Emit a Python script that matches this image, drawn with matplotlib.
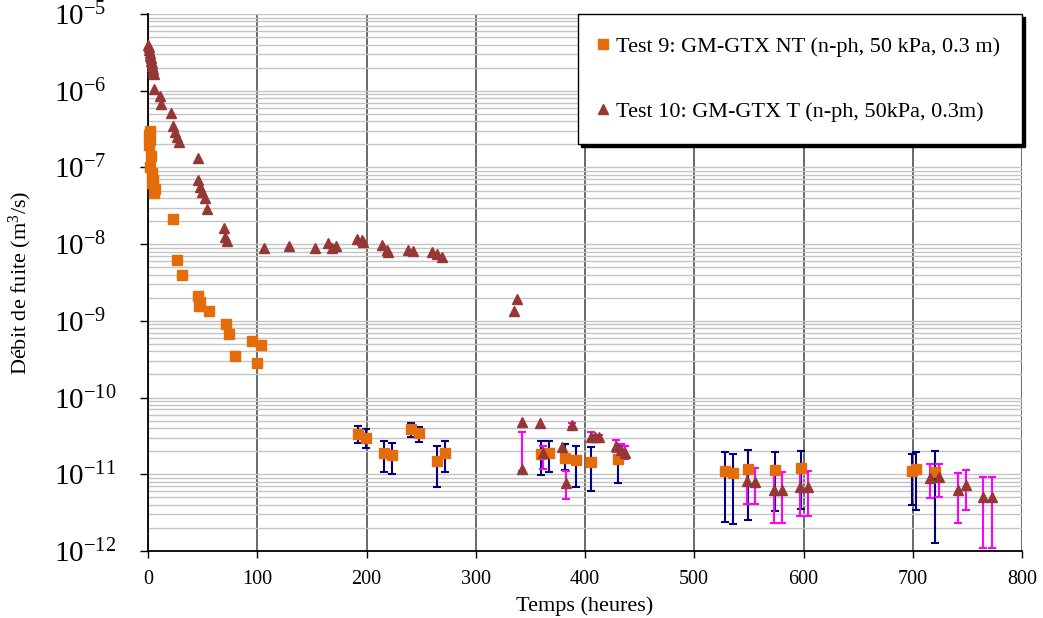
import numpy as np
import matplotlib
matplotlib.use('Agg')
import matplotlib.pyplot as plt
from matplotlib.ticker import LogLocator, NullFormatter, FixedLocator
from matplotlib.lines import Line2D

plt.rcParams['font.family'] = ['Liberation Serif', 'DejaVu Serif']
plt.rcParams['mathtext.fontset'] = 'custom'
plt.rcParams['mathtext.rm'] = 'Liberation Serif'
plt.rcParams['mathtext.it'] = 'Liberation Serif:italic'
plt.rcParams['mathtext.bf'] = 'Liberation Serif:bold'

# ---------------- data ----------------
# Test 9 (GM-GTX NT) – points without error bars
t9_hours = [1.8, 0.9, 1.8, 0.9, 2.5, 1.6, 3.7, 4.6, 3.4, 6.1, 5.8,
            22.6, 26.3, 30.8, 45.5, 47.6, 47.0, 55.8, 71.4, 74.1, 95.2, 103.2, 79.6, 99.5]
t9_flow = [2.99e-7, 2.64e-7, 2.27e-7, 1.96e-7, 1.42e-7, 1.02e-7, 8.4e-8, 6.9e-8, 6.2e-8, 5.3e-8, 4.7e-8,
           2.12e-8, 6.2e-9, 3.96e-9, 2.11e-9, 1.77e-9, 1.57e-9, 1.35e-9, 9.1e-10, 6.8e-10, 5.5e-10, 4.9e-10,
           3.5e-10, 2.84e-10]

# Test 9 – points with error bars
t9e_hours = [192.5, 199.5, 216.0, 223.3, 240.7, 247.8, 264.3, 271.6, 359.4, 367.3, 381.7,
             391.8, 405.5, 429.9, 528.1, 535.2, 548.9, 573.9, 597.4, 699.0, 703.0, 720.4]
t9e_flow = [3.34e-11, 2.96e-11, 1.91e-11, 1.78e-11, 3.88e-11, 3.47e-11, 1.50e-11, 1.91e-11, 1.83e-11,
            1.91e-11, 1.64e-11, 1.55e-11, 1.44e-11, 1.58e-11, 1.11e-11, 1.05e-11, 1.17e-11, 1.15e-11,
            1.22e-11, 1.11e-11, 1.17e-11, 1.08e-11]
t9e_low = [2.53e-11, 2.20e-11, 1.07e-11, 1.02e-11, 3.08e-11, 2.61e-11, 6.9e-12, 1.07e-11, 9.8e-12,
           1.06e-11, 1.14e-11, 6.9e-12, 6.0e-12, 7.8e-12, 2.38e-12, 2.23e-12, 2.55e-12, 3.34e-12,
           3.52e-12, 4.0e-12, 3.41e-12, 1.26e-12]
t9e_high = [4.25e-11, 3.84e-11, 2.74e-11, 2.58e-11, 4.61e-11, 4.16e-11, 2.33e-11, 2.74e-11, 2.71e-11,
            2.71e-11, 2.50e-11, 2.33e-11, 2.29e-11, 2.4e-11, 1.96e-11, 1.85e-11, 2.08e-11, 1.93e-11,
            2.02e-11, 1.83e-11, 1.96e-11, 2.02e-11]

# Test 10 (GM-GTX T) – points without error bars
t10_hours = [0, 0.5, 1.0, 1.5, 2.0, 2.5, 3.0, 3.5, 4.0, 4.5, 5.0, 5.5, 5.5, 11.0, 11.6, 21.1,
             22.6, 24.7, 26.3, 28.6, 45.5, 46.0, 47.6, 49.2, 51.9, 53.7, 69.6, 70.8, 72.6,
             106.2, 129.3, 152.9, 165.0, 168.1, 172.1, 191.0, 195.6, 197.1, 213.9, 218.5, 220.0,
             238.3, 242.8, 259.7, 264.3, 268.8, 335.3, 337.5, 342.1, 358.8, 378.7]
t10_flow = [3.94e-6, 3.71e-6, 3.40e-6, 3.10e-6, 2.83e-6, 2.67e-6, 2.44e-6, 2.30e-6, 2.10e-6, 1.92e-6,
            1.75e-6, 1.65e-6, 1.04e-6, 8.5e-7, 6.7e-7, 5.1e-7, 3.47e-7, 2.92e-7, 2.51e-7, 2.16e-7,
            1.34e-7, 6.85e-8, 5.6e-8, 4.82e-8, 3.95e-8, 2.84e-8, 1.61e-8, 1.25e-8, 1.10e-8,
            8.8e-9, 9.5e-9, 8.8e-9, 1.02e-8, 8.8e-9, 9.5e-9, 1.16e-8, 1.13e-8, 1.07e-8, 9.7e-9,
            8.4e-9, 8.0e-9, 8.4e-9, 8.1e-9, 8.0e-9, 7.4e-9, 6.9e-9, 1.34e-9, 1.92e-9, 4.83e-11,
            4.61e-11, 2.29e-11]

# Test 10 – points with error bars
t10e_hours = [342.6, 361.8, 382.3, 388.4, 405.2, 409.2, 412.8, 428.4, 432.7, 436.6, 548.0,
              555.9, 573.0, 580.3, 596.8, 604.4, 715.8, 724.3, 741.2, 748.5, 764.6, 772.5]
t10e_flow = [1.16e-11, 1.91e-11, 7.7e-12, 4.38e-11, 3.08e-11, 3.03e-11, 3.03e-11, 2.35e-11, 2.07e-11,
             1.91e-11, 8.15e-12, 7.98e-12, 6.22e-12, 6.22e-12, 6.74e-12, 6.74e-12, 8.99e-12, 9.1e-12,
             6.22e-12, 7.23e-12, 5.09e-12, 5.09e-12]
t10e_low = [1.1e-11, 1.17e-11, 4.71e-12, 4.1e-11, 2.71e-11, 2.8e-11, 2.8e-11, 1.95e-11, 1.63e-11,
            1.56e-11, 4.13e-12, 4.05e-12, 2.29e-12, 2.29e-12, 2.83e-12, 2.83e-12, 4.85e-12, 5.1e-12,
            2.29e-12, 3.38e-12, 1.11e-12, 1.11e-12]
t10e_high = [3.58e-11, 2.35e-11, 1.09e-11, 4.7e-11, 3.58e-11, 3.3e-11, 3.3e-11, 2.79e-11, 2.48e-11,
             2.35e-11, 1.22e-11, 1.22e-11, 1.07e-11, 1.07e-11, 1.10e-11, 1.10e-11, 1.35e-11, 1.35e-11,
             1.05e-11, 1.13e-11, 9.27e-12, 9.27e-12]

label9 = 'Test 9: GM-GTX NT (n-ph, 50 kPa, 0.3 m)'
label10 = 'Test 10: GM-GTX T (n-ph, 50kPa, 0.3m)'
x_ticks = [0, 100, 200, 300, 400, 500, 600, 700, 800]
y_exponents = [-12, -11, -10, -9, -8, -7, -6, -5]

# ---------------- styling ----------------
c9 = '#E46C0A'
c10 = '#953735'
c9err = '#000080'
c10err = '#FF00FF'

fig = plt.figure(figsize=(10.43, 6.18), dpi=100)
ax = fig.add_axes([148/1043, 1-551/618, (1022-148)/1043, (551-14)/618])
ax.set_yscale('log')
ax.set_xlim(0, 800)
ax.set_ylim(1e-12, 1e-5)

# grid
ax.set_axisbelow(True)
ax.yaxis.set_major_locator(FixedLocator([10.0**e for e in y_exponents]))
ax.yaxis.set_minor_locator(LogLocator(base=10, subs=range(2, 10), numticks=20))
ax.yaxis.set_minor_formatter(NullFormatter())
ax.grid(which='major', axis='y', color='#c4c4c4', lw=1.0)
ax.grid(which='minor', axis='y', color='#c4c4c4', lw=1.0)
ax.set_xticks(x_ticks)
ax.grid(which='major', axis='x', color='#505050', lw=1.2)

ax.set_yticklabels([r'$10^{%d}$' % e for e in y_exponents])
ax.tick_params(axis='y', which='major', direction='out', length=6, width=1, pad=62, labelsize=21)
for lab in ax.get_yticklabels():
    lab.set_horizontalalignment('left')
ax.tick_params(axis='y', which='minor', length=0)
ax.tick_params(axis='x', direction='out', length=5, width=1, pad=9, labelsize=14.5)

for s in ['top', 'right']:
    ax.spines[s].set_visible(False)
for s in ['left', 'bottom']:
    ax.spines[s].set_color('black')
    ax.spines[s].set_linewidth(1.3)

ms = 7.5
# error bars
t9e_flow_a = np.array(t9e_flow)
ax.errorbar(t9e_hours, t9e_flow,
            yerr=[t9e_flow_a - np.array(t9e_low), np.array(t9e_high) - t9e_flow_a],
            fmt='none', ecolor=c9err, elinewidth=1.5, capsize=3, capthick=1.5, zorder=3)
t10e_flow_a = np.array(t10e_flow)
ax.errorbar(t10e_hours, t10e_flow,
            yerr=[t10e_flow_a - np.array(t10e_low), np.array(t10e_high) - t10e_flow_a],
            fmt='none', ecolor=c10err, elinewidth=1.5, capsize=3, capthick=1.5, zorder=3)

# markers
ax.plot(t9_hours, t9_flow, 's', color=c9, ms=ms, mec=c9, clip_on=False, zorder=4)
ax.plot(t9e_hours, t9e_flow, 's', color=c9, ms=ms, mec=c9, zorder=4)
ax.plot(t10_hours, t10_flow, '^', color=c10, ms=ms, mec=c10, clip_on=False, zorder=5)
ax.plot(t10e_hours, t10e_flow, '^', color=c10, ms=ms, mec=c10, zorder=5)

ax.set_xlabel('Temps (heures)', fontsize=16, labelpad=5)
ax.set_ylabel('Débit de fuite (m$^3$/s)', fontsize=16)
ax.yaxis.set_label_coords(-0.131, 0.5)

handles = [Line2D([], [], ls='none', marker='s', color=c9, ms=6.5),
           Line2D([], [], ls='none', marker='^', color=c10, ms=6.5)]
leg = ax.legend(handles, [label9, label10], loc='upper right', bbox_to_anchor=(1.0, 1.0),
                borderaxespad=0, fontsize=16, frameon=True, fancybox=False, framealpha=1,
                edgecolor='black', labelspacing=2.0, borderpad=1.0, handlelength=0.3,
                handletextpad=0.4, shadow={'color': 'black', 'alpha': 1.0})
leg.get_frame().set_linewidth(1.0)
leg.set_zorder(10)

fig.savefig('out.png', dpi=100)
